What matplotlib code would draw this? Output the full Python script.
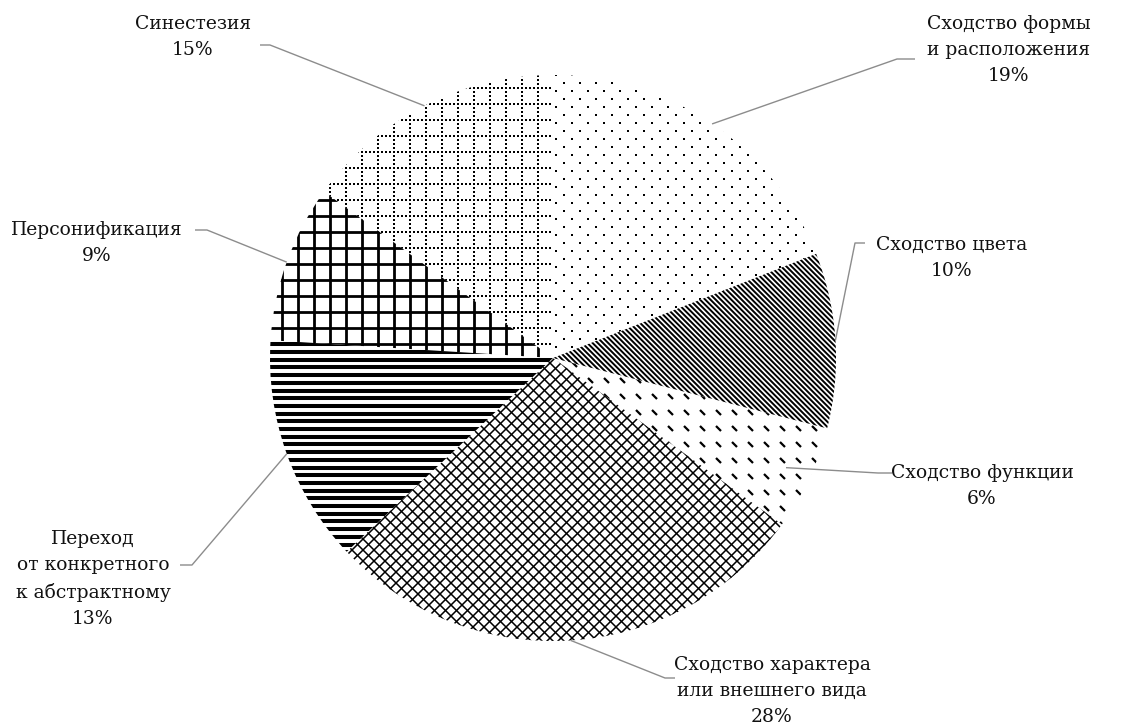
import numpy as np
import matplotlib
matplotlib.use("Agg")
import matplotlib.pyplot as plt
from matplotlib.collections import LineCollection

# data, clockwise from 12 o'clock
categories = [
    "Сходство формы\nи расположения",
    "Сходство цвета",
    "Сходство функции",
    "Сходство характера\nили внешнего вида",
    "Переход\nот конкретного\nк абстрактному",
    "Персонификация",
    "Синестезия",
]
shares = [19, 10, 6, 28, 13, 9, 15]

# layout in pixels of the 1130x727 canvas
W, H = 1130, 727
CX, CY, R = 553, 358, 283

label_pos = [(1009, 50), (952, 258), (982, 486), (772, 691), (93, 579), (97, 243), (193, 37)]
elbows = [(897, 59), (855, 243), (878, 473), (665, 678), (192, 565), (207, 230), (270, 45)]
elbow_ends = [915, 865, 892, 675, 180, 195, 260]
leader_r = [1.0, 1.0, 0.91, 1.0, 1.0, 1.0, 1.0]

X0, X1 = CX - R - 6, CX + R + 6
Y0, Y1 = CY - R - 6, CY + R + 6


def to_data(arr):
    arr = np.asarray(arr, dtype=float).copy()
    arr[..., 0] = (arr[..., 0] - CX) / R
    arr[..., 1] = (CY - arr[..., 1]) / R
    return arr


def steps(lo, hi, period, phase):
    k0 = np.floor((lo - phase) / period)
    k1 = np.ceil((hi - phase) / period)
    return phase + period * np.arange(k0, k1 + 1)


def hlines(period, phase):
    return [[(X0, y), (X1, y)] for y in steps(Y0, Y1, period, phase)]


def vlines(period, phase):
    return [[(x, Y0), (x, Y1)] for x in steps(X0, X1, period, phase)]


def back_diag(period, phase):
    # "\" on screen: y = x + c
    return [[(X0, X0 + c), (X1, X1 + c)] for c in steps(Y0 - X1, Y1 - X0, period, phase)]


def fwd_diag(period, phase):
    # "/" on screen: y = -x + c
    return [[(X0, c - X0), (X1, c - X1)] for c in steps(X0 + Y0, X1 + Y1, period, phase)]


def add_lines(ax, segs, lw, clip):
    lc = LineCollection(to_data(segs), colors="black", linewidths=lw, capstyle="butt")
    ax.add_collection(lc)
    lc.set_clip_path(clip)


def add_dots(ax, pts, size, clip):
    pts = to_data(pts)
    sc = ax.scatter(pts[:, 0], pts[:, 1], s=size, marker="s", c="black", linewidths=0)
    sc.set_clip_path(clip)


def pattern_sparse_dots(ax, w):
    pts = []
    for i, y in enumerate(steps(Y0, Y1, 8, 83)):
        off = 8 if i % 2 else 0
        for x in steps(X0, X1, 16, 564 + off):
            pts.append((x, y))
    add_dots(ax, pts, 3.4, w)


def pattern_dense_diag(ax, w):
    add_lines(ax, back_diag(5.2, 0), 1.4, w)


def pattern_dashes(ax, w):
    segs = []
    for y in steps(Y0, Y1, 16, 410):
        for x in steps(X0, X1, 16, 700):
            segs.append([(x, y), (x + 5, y + 5)])
    add_lines(ax, segs, 1.6, w)


def pattern_diamonds(ax, w):
    add_lines(ax, back_diag(11, 0) + fwd_diag(11, 0), 1.1, w)


def pattern_hstripes(ax, w):
    add_lines(ax, hlines(7.7, 352), 2.9, w)


def pattern_thick_grid(ax, w):
    add_lines(ax, hlines(16, 200) + vlines(16, 410), 2.0, w)


def pattern_dotted_grid(ax, w):
    pts = []
    for y in steps(Y0, Y1, 16, 200):
        for x in steps(X0, X1, 4, 410):
            pts.append((x, y))
    for x in steps(X0, X1, 16, 410):
        for y in steps(Y0, Y1, 4, 200):
            pts.append((x, y))
    add_dots(ax, pts, 3.4, w)


patterns = [pattern_sparse_dots, pattern_dense_diag, pattern_dashes, pattern_diamonds,
            pattern_hstripes, pattern_thick_grid, pattern_dotted_grid]


def main():
    plt.rcParams["font.family"] = ["DejaVu Serif"]
    fig = plt.figure(figsize=(W / 100, H / 100), dpi=100)
    ax = fig.add_axes([(CX - R) / W, (H - CY - R) / H, 2 * R / W, 2 * R / H])

    wedges, _ = ax.pie(shares, startangle=90, counterclock=False, radius=1,
                       wedgeprops=dict(facecolor="white", edgecolor="none"))
    ax.set_xlim(-1, 1)
    ax.set_ylim(-1, 1)
    ax.axis("off")

    for w, draw in zip(wedges, patterns):
        draw(ax, w)

    for i, w in enumerate(wedges):
        mid = np.deg2rad((w.theta1 + w.theta2) / 2)
        r = leader_r[i]
        start = (np.cos(mid) * r, np.sin(mid) * r)
        ex, ey = to_data([elbows[i]])[0]
        hx, _ = to_data([(elbow_ends[i], 0)])[0]
        ax.plot([start[0], ex, hx], [start[1], ey, ey], color="#8c8c8c",
                lw=1.0, solid_capstyle="butt", clip_on=False)

        lx, ly = to_data([label_pos[i]])[0]
        ax.text(lx, ly, f"{categories[i]}\n{shares[i]}%", ha="center", va="center",
                multialignment="center", fontsize=13.5, color="#111111",
                linespacing=1.58)

    fig.savefig("out.png", dpi=100, facecolor="white")
    plt.close(fig)


if __name__ == "__main__":
    main()
